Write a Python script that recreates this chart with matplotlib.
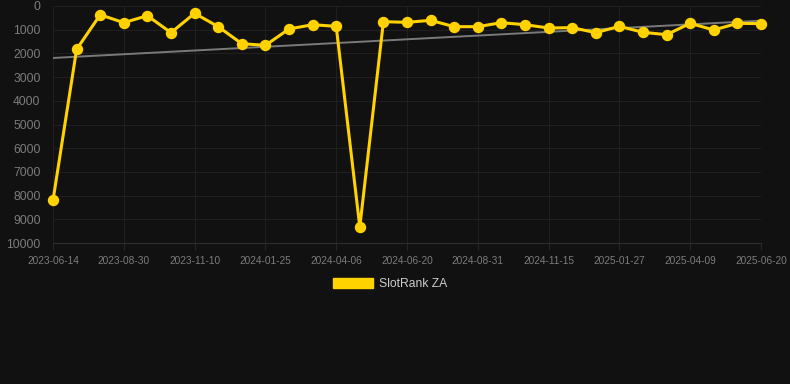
import matplotlib.pyplot as plt
import numpy as np

plt.rcParams['font.family'] = ['Liberation Sans', 'DejaVu Sans']

# Rank values (lower is better), one point per observation
ranks = [8200, 1830, 370, 703, 409, 1125, 309, 872, 1590, 1660,
         970, 789, 858, 9325, 662, 689, 605, 872, 872, 703,
         789, 928, 914, 1125, 858, 1110, 1210, 731, 1013, 731, 745]

# Tick labels shown every third point
tick_labels = ['2023-06-14', '2023-08-30', '2023-11-10', '2024-01-25',
               '2024-04-06', '2024-06-20', '2024-08-31', '2024-11-15',
               '2025-01-27', '2025-04-09', '2025-06-20']

y_ticks = [0, 1000, 2000, 3000, 4000, 5000, 6000, 7000, 8000, 9000, 10000]

bg = '#111111'
gold = '#FFD200'
grid_col = '#1f1f1f'
label_col = '#7c7c7c'

x = np.arange(len(ranks))

fig = plt.figure(figsize=(7.9, 3.84), dpi=100, facecolor=bg)
ax = fig.add_axes([53 / 790, 1 - 243 / 384, 708 / 790, 237 / 384])
ax.set_facecolor(bg)

# linear trend
coef = np.polyfit(x, ranks, 1)
ax.plot(x, np.polyval(coef, x), color='#7a7a7a', linewidth=1.4, zorder=2)

ax.plot(x, ranks, color=gold, linewidth=2.2, marker='o', markersize=7.2,
        solid_joinstyle='miter', zorder=3, clip_on=False, label='SlotRank ZA')

ax.set_xlim(0, len(ranks) - 1)
ax.set_ylim(10000, 0)
ax.set_yticks(y_ticks)
ax.set_yticklabels([str(v) for v in y_ticks])
ax.set_xticks(x[::3])
ax.set_xticklabels(tick_labels)

ax.grid(True, color=grid_col, linewidth=0.8)
ax.set_axisbelow(True)
for side in ['top', 'right', 'left']:
    ax.spines[side].set_visible(False)
ax.spines['bottom'].set_color('#2e2e2e')

ax.tick_params(axis='y', length=0, pad=9, labelsize=8.7, labelcolor=label_col)
ax.tick_params(axis='x', length=5, color='#262626', pad=4, labelsize=7.3, labelcolor=label_col)

leg = fig.legend(handles=[plt.Rectangle((0, 0), 1, 1, color=gold)], labels=['SlotRank ZA'],
                 loc='center', bbox_to_anchor=(0.494, 1 - 284 / 384), frameon=False,
                 handlelength=3.3, handleheight=0.9, handletextpad=0.5,
                 fontsize=8.7, labelcolor='#cccccc')

fig.savefig('out.png', dpi=100, facecolor=bg)
